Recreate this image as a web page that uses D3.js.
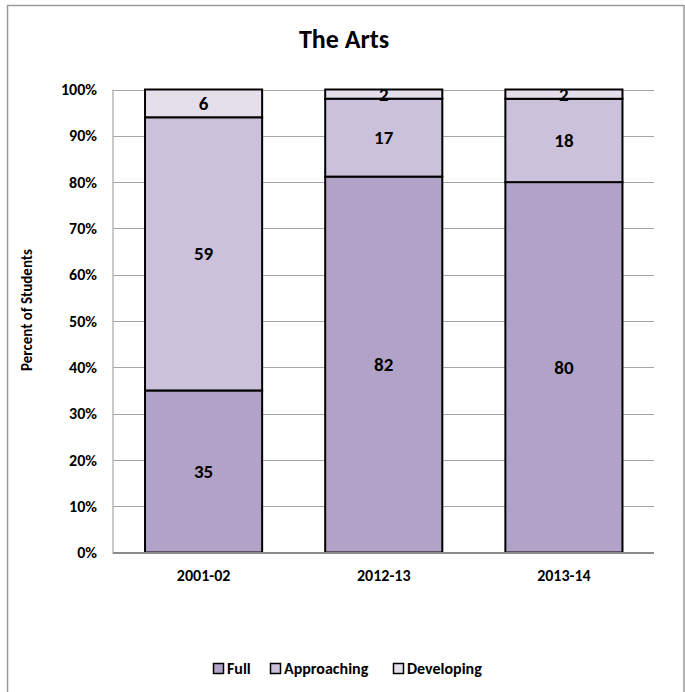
<!DOCTYPE html>
<html>
<head>
<meta charset="utf-8">
<script src="https://cdn.jsdelivr.net/npm/d3@7"></script>
<style>
  html, body { margin: 0; padding: 0; background: #fff; }
  svg { display: block; }
  text { font-family: Carlito, Lato, "Open Sans", sans-serif; font-weight: bold; fill: #000; }
</style>
</head>
<body>
<svg id="chart" width="685" height="692"></svg>
<script>
const title = "The Arts";
const yAxisTitle = "Percent of Students";
const categories = ["2001-02", "2012-13", "2013-14"];
const seriesNames = ["Full", "Approaching", "Developing"];
const full = [35, 82, 80];
const approaching = [59, 17, 18];
const developing = [6, 2, 2];
const yTicks = [0, 0.1, 0.2, 0.3, 0.4, 0.5, 0.6, 0.7, 0.8, 0.9, 1.0];
const colors = ["#B1A2C8", "#CBC1DB", "#E5DFEC"];

const rows = categories.map((c, i) => {
  const total = full[i] + approaching[i] + developing[i];
  return { cat: c, Full: full[i] / total, Approaching: approaching[i] / total, Developing: developing[i] / total,
           raw: { Full: full[i], Approaching: approaching[i], Developing: developing[i] } };
});

const svg = d3.select("#chart");
svg.append("rect").attr("x", 0).attr("y", 0).attr("width", 685).attr("height", 692).attr("fill", "#fff");
svg.append("rect").attr("x", 7.5).attr("y", 5.5).attr("width", 676.5).attr("height", 690)
  .attr("fill", "none").attr("stroke", "#9a9a9a").attr("stroke-width", 1.5);

const x = d3.scaleBand().domain(categories).range([113.5, 654]).paddingInner(0.35).paddingOuter(0.175);
const y = d3.scaleLinear().domain([0, 1]).range([552.5, 89.5]);

// gridlines
svg.append("g").selectAll("line").data(yTicks.filter(t => t > 0)).join("line")
  .attr("x1", 113).attr("x2", 654)
  .attr("y1", d => Math.round(y(d)) + 0.5).attr("y2", d => Math.round(y(d)) + 0.5)
  .attr("stroke", "#a6a6a6").attr("stroke-width", 1);

// y axis line
svg.append("line").attr("x1", 113).attr("x2", 113).attr("y1", y(1)).attr("y2", y(0) + 1)
  .attr("stroke", "#a6a6a6").attr("stroke-width", 1.2);

// y axis labels
const yAxis = d3.axisLeft(y).tickValues(yTicks).tickFormat(d3.format(".0%")).tickSize(0).tickPadding(16);
const gy = svg.append("g").attr("transform", "translate(113,0)").call(yAxis);
gy.select(".domain").remove();
gy.selectAll("text").style("font-size", "16px").style("font-family", "Carlito, Lato, sans-serif").style("font-weight", "bold");

// stacks
const stack = d3.stack().keys(seriesNames);
const stacked = stack(rows);
const gBars = svg.append("g");
stacked.forEach((layer, li) => {
  gBars.append("g").selectAll("rect").data(layer).join("rect")
    .attr("x", d => x(d.data.cat))
    .attr("width", x.bandwidth())
    .attr("y", d => y(d[1]))
    .attr("height", d => y(d[0]) - y(d[1]))
    .attr("fill", colors[li])
    .attr("stroke", "#000").attr("stroke-width", 2);
});

// bottom axis line
svg.append("line").attr("x1", 113).attr("x2", 654).attr("y1", 553).attr("y2", 553)
  .attr("stroke", "#8c8c8c").attr("stroke-width", 2);

// data labels
stacked.forEach((layer, li) => {
  svg.append("g").selectAll("text").data(layer).join("text")
    .attr("x", d => x(d.data.cat) + x.bandwidth() / 2)
    .attr("y", d => (y(d[0]) + y(d[1])) / 2)
    .attr("dy", "0.34em")
    .attr("text-anchor", "middle")
    .style("font-size", "19px")
    .text(d => d.data.raw[layer.key]);
});

// x axis labels
const xAxis = d3.axisBottom(x).tickSize(0).tickPadding(17);
const gx = svg.append("g").attr("transform", "translate(0,553)").call(xAxis);
gx.select(".domain").remove();
gx.selectAll("text").style("font-size", "16px").style("font-family", "Carlito, Lato, sans-serif").style("font-weight", "bold");

// title
svg.append("text").attr("x", 344).attr("y", 48).attr("text-anchor", "middle")
  .style("font-size", "26px").text(title);

// y axis title
svg.append("text").attr("transform", "translate(27,310) rotate(-90)").attr("text-anchor", "middle")
  .attr("dy", "0.34em")
  .style("font-size", "15px").text(yAxisTitle);

// legend
const legendX = [213, 270, 393];
const lg = svg.append("g");
seriesNames.forEach((s, i) => {
  lg.append("rect").attr("x", legendX[i] + 0.5).attr("y", 663.5).attr("width", 10).attr("height", 10)
    .attr("fill", colors[i]).attr("stroke", "#000").attr("stroke-width", 1.5);
  lg.append("text").attr("x", legendX[i] + 14).attr("y", 668.5).attr("dy", "0.34em")
    .style("font-size", "16px").text(s);
});
</script>
</body>
</html>
